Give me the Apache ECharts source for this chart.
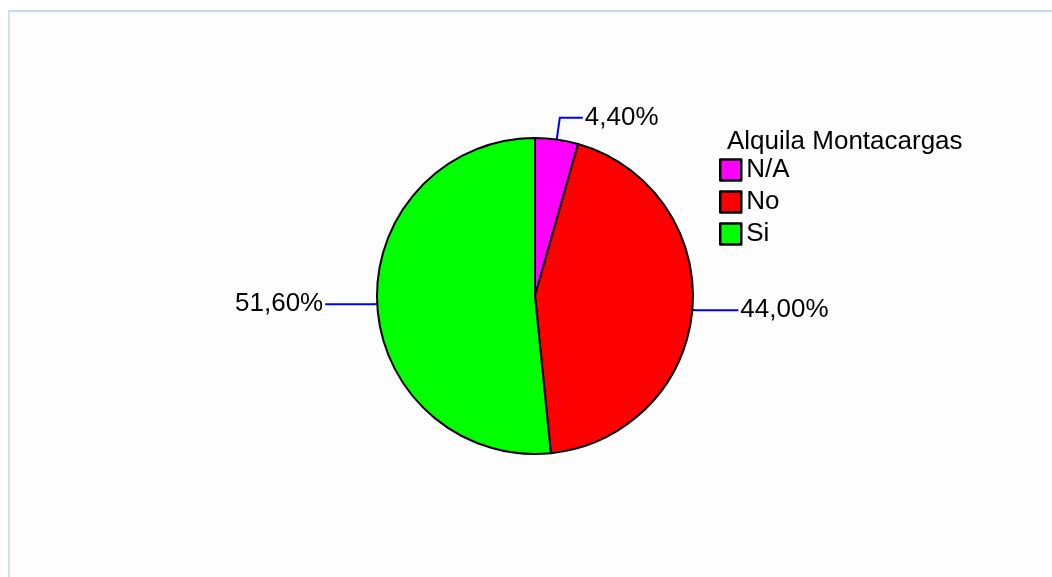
<!DOCTYPE html>
<html>
<head>
<meta charset="utf-8">
<script src="https://cdn.jsdelivr.net/npm/echarts@6/dist/echarts.min.js"></script>
<style>
  html, body { margin: 0; padding: 0; background: #ffffff; }
  #frame {
    position: absolute; left: 8px; top: 10px; width: 1060px; height: 580px;
    border-top: 2px solid #c3dcf3; border-left: 2px solid #cfe2f5;
    background: #fdfdfd;
  }
  #chart { position: absolute; left: 0; top: 0; width: 1052px; height: 577px; }
</style>
</head>
<body>
<div id="frame"></div>
<div id="chart"></div>
<script>
// Share of respondents by answer to "Alquila Montacargas"
const legendTitle = 'Alquila Montacargas';
const categories = ['N/A', 'No', 'Si'];
const percents = [4.40, 44.00, 51.60];
const sliceColors = ['#ff00ff', '#ff0000', '#00ff00'];
// leader-line segment lengths per slice: [radial, horizontal]
const leaderLengths = [[22, 23], [4, 42], [4, 48]];

const fmt = v => v.toFixed(2).replace('.', ',') + '%';
const FONT = 'Liberation Sans, Arial, sans-serif';

const chart = echarts.init(document.getElementById('chart'), null, { renderer: 'canvas' });

const seriesData = categories.map((name, i) => ({
  name,
  value: percents[i],
  itemStyle: { color: sliceColors[i] },
  labelLine: { length: leaderLengths[i][0], length2: leaderLengths[i][1] }
}));

chart.setOption({
  backgroundColor: 'transparent',
  animation: false,
  title: {
    text: legendTitle,
    left: 727, top: 129,
    padding: 0,
    textStyle: { fontFamily: FONT, fontSize: 26, fontWeight: 'normal', color: '#000' }
  },
  legend: {
    orient: 'vertical',
    left: 719, top: 157,
    padding: 0,
    itemWidth: 21, itemHeight: 21, itemGap: 6,
    icon: 'rect',
    data: categories,
    itemStyle: { borderColor: '#000', borderWidth: 2.5 },
    textStyle: { fontFamily: FONT, fontSize: 26, color: '#000', padding: [0, 0, 0, 0] },
    selectedMode: false
  },
  series: [{
    type: 'pie',
    center: [535, 296],
    radius: 158,
    startAngle: 90,
    clockwise: true,
    avoidLabelOverlap: false,
    silent: true,
    itemStyle: { borderColor: '#000', borderWidth: 2 },
    label: {
      show: true,
      position: 'outside',
      formatter: p => fmt(p.value),
      fontFamily: FONT,
      fontSize: 26,
      color: '#000',
      distanceToLabelLine: 2
    },
    labelLine: {
      show: true,
      smooth: false,
      lineStyle: { color: '#0000ff', width: 2 }
    },
    data: seriesData
  }]
});
</script>
</body>
</html>
